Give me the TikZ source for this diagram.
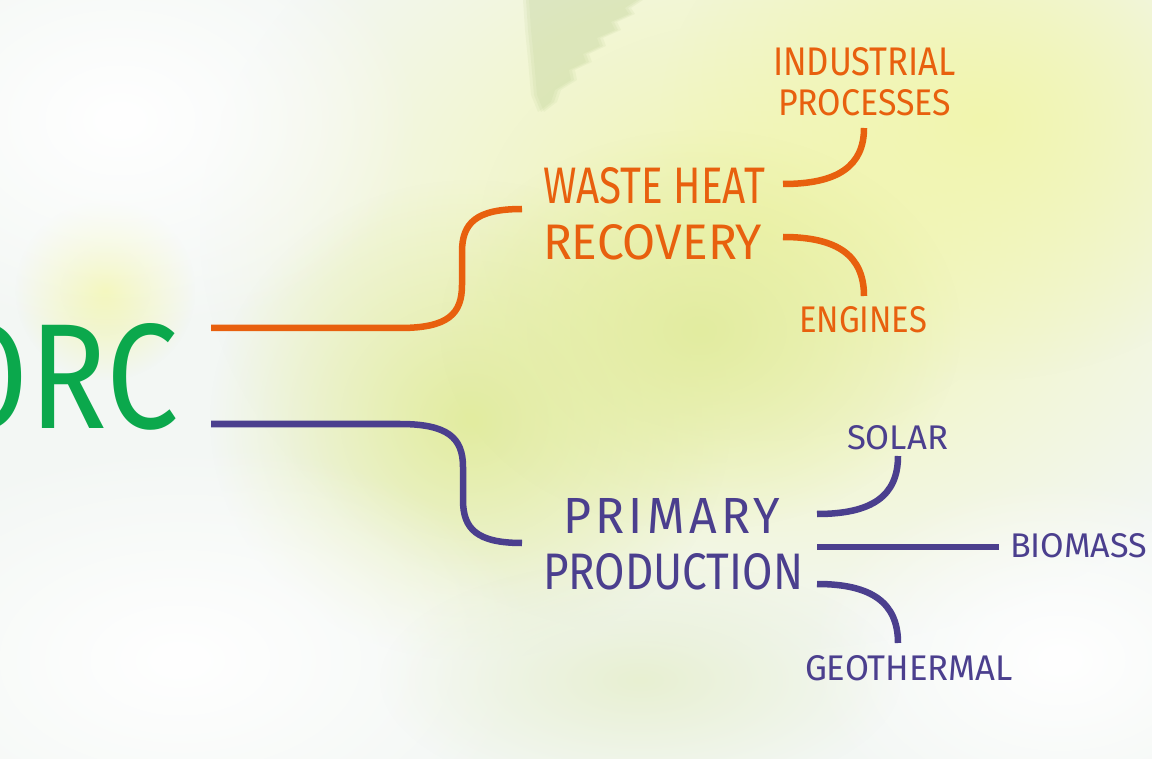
\documentclass[tikz,border=0pt]{standalone}
\usepackage{fontspec}
\usepackage{graphicx}
\setmainfont{Fira Sans}
\newfontfamily\lab{Fira Sans}
\newfontfamily\labsp{Fira Sans}[LetterSpace=9]
\usetikzlibrary{fadings}
\tikzfading[name=blobfade, inner color=transparent!0, outer color=transparent!100]
\definecolor{orcgreen}{HTML}{0BA84C}
\definecolor{wastecol}{HTML}{E8600E}
\definecolor{primcol}{HTML}{4B3F8E}
\definecolor{bgbase}{HTML}{F3F7F4}
\definecolor{bgyellow}{HTML}{F1F5AE}
\definecolor{bggreen}{HTML}{E2ECA0}
\definecolor{bgpale}{HTML}{E8F0D2}
\definecolor{leafcol}{HTML}{B5CC8A}
\newcommand\tx[3]{\resizebox{#1pt}{#2pt}{#3}}
\tikzset{
  lbl/.style={inner sep=0pt, outer sep=0pt, anchor=north west, font=\lab},
  orangelink/.style={draw=wastecol, line width=6.5pt, line cap=butt},
  purplelink/.style={draw=primcol, line width=6.5pt, line cap=butt},
  blob/.style={path fading=blobfade}
}
\newcommand\leafpath{(526,0) -- (640,0) -- (628,8) -- (632,14) -- (614,22) -- (618,30) -- (600,38) -- (603,46) -- (586,54) -- (589,62) -- (572,70) -- (574,80) -- (558,90) -- (554,102) -- (541,112) -- (534,95) -- (531,60) -- (528,30) -- cycle}
\begin{document}
\begin{tikzpicture}[x=1pt,y=-1pt]
\useasboundingbox (0,0) rectangle (1152,759);
\clip (0,0) rectangle (1152,759);
% background
\fill[bgbase] (0,0) rectangle (1152,759);
\fill[bgyellow, blob] (200,-190) rectangle (1320,650);
\fill[bgyellow, blob] (660,-140) rectangle (1300,380);
\fill[bggreen, blob] (210,180) rectangle (730,660);
\fill[bggreen, blob] (440,130) rectangle (960,530);
\fill[bgyellow, blob] (15,200) rectangle (195,380);
\fill[white, blob] (-180,-100) rectangle (420,340);
\fill[white, blob] (-180,440) rectangle (540,880);
\fill[white, blob] (800,480) rectangle (1320,840);
\fill[bgpale, blob] (380,560) rectangle (900,800);
% faint leaf
\begin{scope}[xshift=-3pt]
\fill[leafcol, opacity=0.12] \leafpath;
\end{scope}
\begin{scope}[xshift=3pt]
\fill[leafcol, opacity=0.12] \leafpath;
\end{scope}
\fill[leafcol, opacity=0.14] \leafpath;
% nodes
\node[lbl, text=orcgreen] (orc) at (-60,323) {\tx{238}{105}{ORC}};
\node[lbl, text=wastecol] (wh1) at (543,167) {\tx{222}{36}{WASTE HEAT}};
\node[lbl, text=wastecol] (wh2) at (543,224) {\tx{219}{35}{RECOVERY}};
\node[lbl, text=wastecol] (ind1) at (773,48) {\tx{183}{28}{INDUSTRIAL}};
\node[lbl, text=wastecol] (ind2) at (778,90) {\tx{173}{26}{PROCESSES}};
\node[lbl, text=wastecol] (eng) at (799,307) {\tx{128}{26}{ENGINES}};
\node[lbl, text=primcol] (pp1) at (563,498) {\tx{217}{35}{\labsp PRIMARY}};
\node[lbl, text=primcol] (pp2) at (543,553) {\tx{260}{36}{PRODUCTION}};
\node[lbl, text=primcol] (sol) at (847,425) {\tx{101}{24}{SOLAR}};
\node[lbl, text=primcol] (bio) at (1010,533) {\tx{137}{24}{BIOMASS}};
\node[lbl, text=primcol] (geo) at (805,655) {\tx{208}{25}{GEOTHERMAL}};
% connector ends
\coordinate (orcA) at (211,328);
\coordinate (orcB) at (211,424);
\coordinate (whL) at (522,209);
\coordinate (ppL) at (522,543);
\coordinate (whR1) at (783,184);
\coordinate (whR2) at (783,237);
\coordinate (indB) at (864,128);
\coordinate (engT) at (864,296);
\coordinate (ppR1) at (817,514);
\coordinate (ppR2) at (817,547);
\coordinate (ppR3) at (817,584);
\coordinate (solB) at (898,456);
\coordinate (bioL) at (999,547);
\coordinate (geoT) at (898,643);
% connectors
\draw[orangelink] (orcA) -- (400,328) .. controls (448,328) and (462,314) .. (462,285) -- (462,252) .. controls (462,223) and (476,209) .. (whL);
\draw[purplelink] (orcB) -- (400,424) .. controls (448,424) and (463,438) .. (463,467) -- (463,500) .. controls (463,529) and (477,543) .. (ppL);
\draw[orangelink] (whR1) .. controls (838,184) and (864,166) .. (indB);
\draw[orangelink] (whR2) .. controls (838,237) and (864,256) .. (engT);
\draw[purplelink] (ppR1) .. controls (872,514) and (898,496) .. (solB);
\draw[purplelink] (ppR2) -- (bioL);
\draw[purplelink] (ppR3) .. controls (872,584) and (898,603) .. (geoT);
\end{tikzpicture}
\end{document}
